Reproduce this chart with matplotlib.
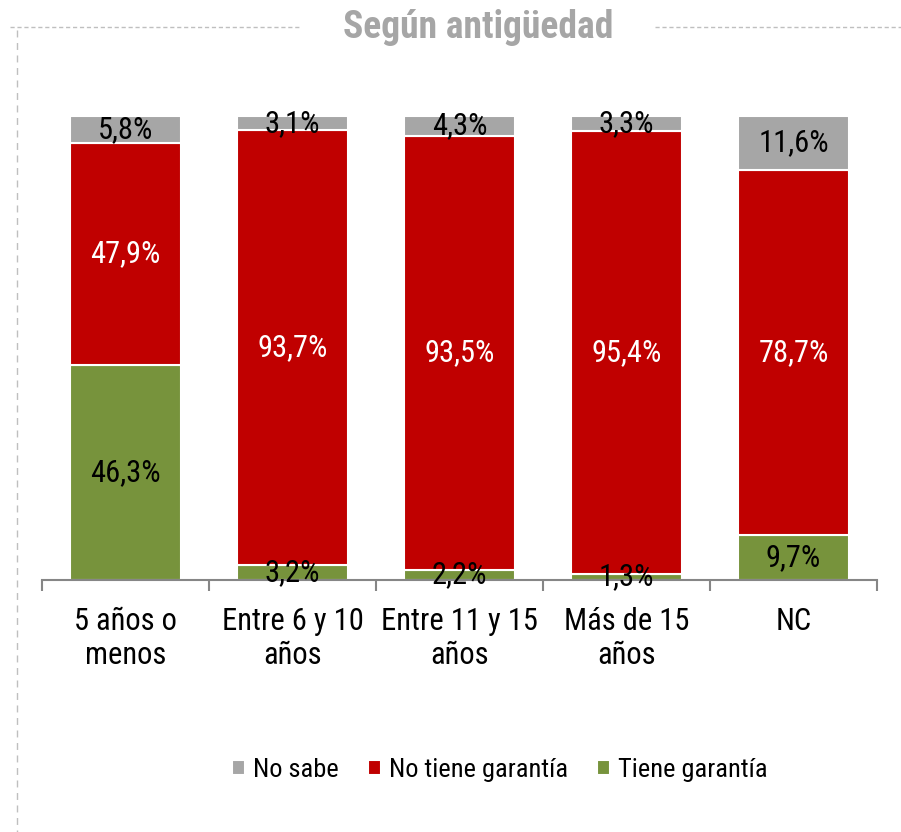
import matplotlib.pyplot as plt
from matplotlib import font_manager
from matplotlib.lines import Line2D
import numpy as np

# Buscar una fuente estrecha instalada (tipo Arial Narrow)
nombres = sorted(set(f.name for f in font_manager.fontManager.ttflist))
fuente = 'Liberation Sans'
for cand in ['Liberation Sans Narrow', 'Roboto Condensed', 'Open Sans Condensed', 'DejaVu Sans Condensed']:
    if cand in nombres:
        fuente = cand
        break
plt.rcParams['font.family'] = [fuente, 'DejaVu Sans']

categorias = ['5 años o\nmenos', 'Entre 6 y 10\naños', 'Entre 11 y 15\naños', 'Más de 15\naños', 'NC']
tiene = [46.3, 3.2, 2.2, 1.3, 9.7]
no_tiene = [47.9, 93.7, 93.5, 95.4, 78.7]
no_sabe = [5.8, 3.1, 4.3, 3.3, 11.6]

c_gris = '#A6A6A6'
c_rojo = '#C00000'
c_verde = '#77933C'

fig = plt.figure(figsize=(9.01, 8.32), dpi=100)
ax = fig.add_axes([42/901, 1-580/832, 835/901, 464/832])

x = np.arange(len(categorias))
w = 0.665
tiene = np.array(tiene)
no_tiene = np.array(no_tiene)
no_sabe = np.array(no_sabe)

b1 = ax.bar(x, tiene, w, color=c_verde, edgecolor='white', linewidth=1.5, label='Tiene garantía')
b2 = ax.bar(x, no_tiene, w, bottom=tiene, color=c_rojo, edgecolor='white', linewidth=1.5, label='No tiene garantía')
b3 = ax.bar(x, no_sabe, w, bottom=tiene+no_tiene, color=c_gris, edgecolor='white', linewidth=1.5, label='No sabe')

def etiq(v):
    return f'{v:.1f}%'.replace('.', ',')

for i in range(len(x)):
    ax.text(x[i], tiene[i]/2, etiq(tiene[i]), ha='center', va='center', fontsize=22, color='black')
    ax.text(x[i], tiene[i] + no_tiene[i]/2, etiq(no_tiene[i]), ha='center', va='center', fontsize=22, color='white')
    ax.text(x[i], tiene[i] + no_tiene[i] + no_sabe[i]/2, etiq(no_sabe[i]), ha='center', va='center', fontsize=22, color='black')

ax.set_xlim(-0.5, len(x)-0.5)
ax.set_ylim(0, 100)
for s in ['top', 'right', 'left']:
    ax.spines[s].set_visible(False)
ax.spines['bottom'].set_color('#868686')
ax.spines['bottom'].set_linewidth(1.5)
ax.set_yticks([])
ax.set_xticks(np.arange(-0.5, len(x), 1))
ax.set_xticklabels([])
ax.tick_params(axis='x', length=8, width=1.5, color='#868686', direction='out')
for i, c in enumerate(categorias):
    ax.text(x[i], -5.9, c, ha='center', va='top', fontsize=22, linespacing=1.22)

handles = [b3, b2, b1]
ax.legend(handles, [h.get_label() for h in handles], loc='center',
          bbox_to_anchor=((500-42)/835, 1-(770-116)/464),
          ncol=3, frameon=False, fontsize=19, handlelength=0.5, handleheight=0.5, handletextpad=0.3,
          columnspacing=1.1)

fig.text(478/901, 1-28/832, 'Según antigüedad', ha='center', va='center', fontsize=27, fontweight='bold', color=c_gris)

gris_l = '#BFBFBF'
fig.add_artist(Line2D([10/901, 300/901], [1-27/832]*2, color=gris_l, lw=1, ls=(0, (3, 2))))
fig.add_artist(Line2D([655/901, 1.0], [1-27/832]*2, color=gris_l, lw=1, ls=(0, (3, 2))))
fig.add_artist(Line2D([17/901]*2, [1-30/832, 0], color=gris_l, lw=1, ls=(0, (5, 4))))

plt.savefig('out.png', dpi=100)
